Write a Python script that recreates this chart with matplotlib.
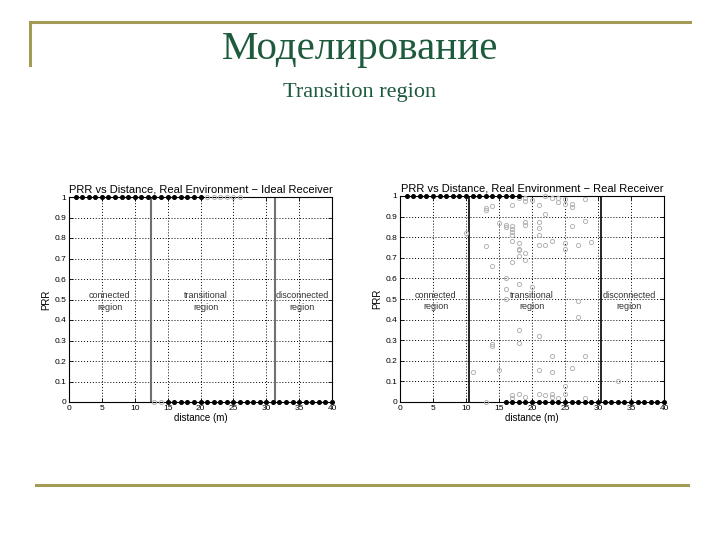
import matplotlib
matplotlib.use('Agg')
import matplotlib.pyplot as plt
from matplotlib.lines import Line2D

#Slide text
slide_title    = 'Моделирование'
slide_subtitle = 'Transition region'

#Ideal receiver (left)
ideal_title      = 'PRR vs Distance, Real Environment \u2212 Ideal Receiver'
ideal_top_dark   = [1, 2, 3, 4, 5, 6, 7, 8, 9, 10, 11, 12, 13, 14, 15, 16, 17, 18, 19, 20]
ideal_top_light  = [21, 22, 23, 24, 25, 26]
ideal_bot_light  = [13, 14]
ideal_bot_dark   = [15, 16, 17, 18, 19, 20, 21, 22, 23, 24, 25, 26, 27, 28, 29, 30,
                    31, 32, 33, 34, 35, 36, 37, 38, 39, 40]
ideal_bounds     = [12.4, 31.4]
ideal_labels_x   = [6.2, 20.8, 35.5]

#Real receiver (right)
real_title       = 'PRR vs Distance, Real Environment \u2212 Real Receiver'
real_top_dark    = [1, 2, 3, 4, 5, 6, 7, 8, 9, 10, 11, 12, 13, 14, 15, 16, 17, 18]
real_bot_dark    = [16, 17, 18, 19, 20, 21, 22, 23, 24, 25, 26, 27, 28, 29, 30,
                    31, 32, 33, 34, 35, 36, 37, 38, 39, 40]
real_scatter_x   = [10, 11, 13, 13, 13, 13, 14, 14, 14, 14, 15, 15, 16, 16, 16, 16, 16,
                    17, 17, 17, 17, 17, 17, 17, 17, 17, 18, 18, 18, 18, 18, 18, 18, 18, 18,
                    19, 19, 19, 19, 19, 19, 19, 20, 20, 21, 21, 21, 21, 21, 21, 21, 21,
                    22, 22, 22, 22, 23, 23, 23, 23, 23, 23, 24, 24, 24,
                    25, 25, 25, 25, 25, 25, 26, 26, 26, 26, 27, 27, 27, 28, 28, 28, 28, 29, 33]
real_scatter_y   = [0.82, 0.145, 0.94, 0.93, 0.755, 0.0, 0.95, 0.66, 0.28, 0.27, 0.87, 0.155,
                    0.86, 0.85, 0.6, 0.55, 0.5,
                    0.955, 0.855, 0.84, 0.825, 0.81, 0.78, 0.68, 0.035, 0.02,
                    0.99, 0.77, 0.745, 0.74, 0.71, 0.575, 0.35, 0.285, 0.04,
                    0.99, 0.975, 0.875, 0.86, 0.725, 0.69, 0.025, 0.98, 0.56,
                    0.955, 0.875, 0.845, 0.81, 0.76, 0.32, 0.155, 0.04,
                    1.0, 0.915, 0.76, 0.035, 0.99, 0.78, 0.225, 0.145, 0.04, 0.025,
                    0.99, 0.97, 0.02, 0.985, 0.96, 0.77, 0.745, 0.08, 0.04,
                    0.96, 0.945, 0.855, 0.165, 0.76, 0.49, 0.415, 0.985, 0.88, 0.225, 0.02,
                    0.775, 0.10]
real_bounds      = [10.5, 30.5]
real_labels_x    = [5.4, 20.0, 34.7]

region_labels = ['connected\nregion', 'transitional\nregion', 'disconnected\nregion']
x_ticks       = [0, 5, 10, 15, 20, 25, 30, 35, 40]
y_ticks       = [0, 0.1, 0.2, 0.3, 0.4, 0.5, 0.6, 0.7, 0.8, 0.9, 1]
y_ticklabels  = ['0', '0.1', '0.2', '0.3', '0.4', '0.5', '0.6', '0.7', '0.8', '0.9', '1']

plt.rcParams['font.family'] = ['Liberation Sans', 'DejaVu Sans']

W, H = 720, 540
fig = plt.figure(figsize=(7.2, 5.4), dpi=100)
fig.patch.set_facecolor('white')

def px_axes(x0, y0, x1, y1):
    return fig.add_axes([x0 / W, 1 - y1 / H, (x1 - x0) / W, (y1 - y0) / H])

def style(ax, title):
    ax.set_xlim(0, 40)
    ax.set_ylim(0, 1)
    ax.set_xticks(x_ticks)
    ax.set_yticks(y_ticks)
    ax.set_yticklabels(y_ticklabels)
    ax.tick_params(direction='in', length=3, width=0.6, labelsize=6,
                   top=True, right=True, pad=2)
    ax.grid(True, linestyle=(0, (1, 2)), color='black', linewidth=0.7)
    for s in ax.spines.values():
        s.set_linewidth(0.8)
    ax.set_title(title, fontsize=8, pad=3)
    ax.set_xlabel('distance (m)', fontsize=7, labelpad=1)
    ax.set_ylabel('PRR', fontsize=7, labelpad=2)

def regions(ax, xs):
    for x, lab in zip(xs, region_labels):
        ax.text(x, 0.49, lab, fontsize=6.5, color='#333333', ha='center', va='center',
                linespacing=1.35)

dark = dict(linestyle='none', marker='o', markersize=2.6, color='black', clip_on=False, zorder=5)
light = dict(linestyle='none', marker='o', markersize=3, mfc='none', mec='#b4b4b4',
             mew=0.7, clip_on=False, zorder=4)

#Left
ax1 = px_axes(69, 197, 332, 402)
ax1.plot(ideal_top_dark, [1] * len(ideal_top_dark), **dark)
ax1.plot(ideal_top_light, [1] * len(ideal_top_light), **light)
ax1.plot(ideal_bot_light, [0] * len(ideal_bot_light), **light)
ax1.plot(ideal_bot_dark, [0] * len(ideal_bot_dark), **dark)
for b in ideal_bounds:
    ax1.axvline(b, color='#707070', linewidth=1.5)
regions(ax1, ideal_labels_x)
style(ax1, ideal_title)

#Right
ax2 = px_axes(400, 196, 664, 402)
ax2.plot(real_scatter_x, real_scatter_y, **light)
ax2.plot(real_top_dark, [1] * len(real_top_dark), **dark)
ax2.plot(real_bot_dark, [0] * len(real_bot_dark), **dark)
for b in real_bounds:
    ax2.axvline(b, color='black', linewidth=1.2)
regions(ax2, real_labels_x)
style(ax2, real_title)

#Slide decoration
gold = '#a39b55'
fig.add_artist(Line2D([30 / W, 690 / W], [1 - 22 / H, 1 - 22 / H], color=gold, linewidth=2.2,
                      transform=fig.transFigure))
fig.add_artist(Line2D([30 / W, 30 / W], [1 - 22 / H, 1 - 65 / H], color=gold, linewidth=2.2,
                      transform=fig.transFigure))
fig.add_artist(Line2D([36 / W, 688 / W], [1 - 485 / H, 1 - 485 / H], color=gold, linewidth=2.2,
                      transform=fig.transFigure))

fig.text(0.5, 1 - 50 / H, slide_title, fontsize=29.5, family='Liberation Serif',
         color='#1e5a3c', ha='center', va='center')
fig.text(0.5, 1 - 92 / H, slide_subtitle, fontsize=16, family='Liberation Serif',
         color='#1e5a3c', ha='center', va='center')

fig.savefig('out.png', dpi=100)
